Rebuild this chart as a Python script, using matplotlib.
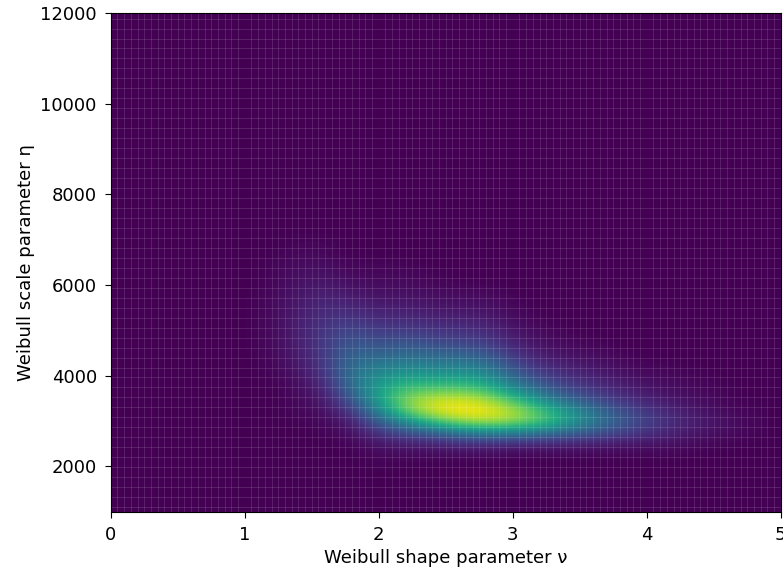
import numpy as np
import matplotlib.pyplot as plt
from matplotlib.ticker import MultipleLocator

# grid of the posterior density (cell centres)
shape_nu = [1.0, 1.2, 1.4, 1.6, 1.8, 2.0, 2.2, 2.4, 2.6, 2.8,
            3.0, 3.2, 3.4, 3.6, 3.8, 4.0, 4.2, 4.4, 4.6, 4.8]
scale_eta = [2000, 2250, 2500, 2750, 3000, 3250, 3500, 3750, 4000, 4250, 4500,
             4750, 5000, 5250, 5500, 5750, 6000, 6250, 6500, 6750, 7000]

# rows follow scale_eta, columns follow shape_nu (normalised to peak = 1)
density = [
    [0, 0, 0, 0, 0, 0.01, 0, 0, 0, 0, 0, 0, 0, 0, 0, 0, 0, 0, 0, 0],
    [0, 0, 0, 0, 0, 0.02, 0.02, 0.02, 0.02, 0.02, 0.01, 0.01, 0.01, 0.01, 0.01, 0.01, 0.01, 0, 0, 0],
    [0, 0, 0, 0, 0.01, 0.06, 0.08, 0.09, 0.12, 0.12, 0.11, 0.10, 0.09, 0.08, 0.06, 0.05, 0.04, 0.02, 0.01, 0],
    [0, 0, 0, 0.01, 0.04, 0.15, 0.24, 0.31, 0.40, 0.45, 0.44, 0.40, 0.33, 0.27, 0.20, 0.14, 0.09, 0.05, 0.03, 0.01],
    [0, 0, 0.01, 0.02, 0.08, 0.30, 0.50, 0.70, 0.85, 0.90, 0.85, 0.74, 0.58, 0.42, 0.29, 0.19, 0.12, 0.07, 0.04, 0.01],
    [0, 0, 0.02, 0.04, 0.17, 0.46, 0.78, 0.95, 1.00, 0.98, 0.88, 0.70, 0.52, 0.36, 0.24, 0.15, 0.09, 0.05, 0.02, 0.01],
    [0, 0, 0.02, 0.07, 0.27, 0.57, 0.80, 0.90, 0.92, 0.86, 0.68, 0.48, 0.32, 0.22, 0.14, 0.09, 0.05, 0.03, 0.01, 0],
    [0, 0, 0.03, 0.10, 0.35, 0.56, 0.68, 0.70, 0.71, 0.65, 0.46, 0.31, 0.20, 0.14, 0.09, 0.05, 0.03, 0.02, 0.01, 0],
    [0, 0.01, 0.04, 0.14, 0.38, 0.49, 0.55, 0.54, 0.55, 0.50, 0.33, 0.20, 0.13, 0.09, 0.05, 0.03, 0.02, 0.01, 0, 0],
    [0, 0.01, 0.06, 0.16, 0.36, 0.40, 0.44, 0.42, 0.42, 0.38, 0.23, 0.12, 0.08, 0.05, 0.03, 0.01, 0.01, 0, 0, 0],
    [0, 0.02, 0.07, 0.17, 0.32, 0.31, 0.34, 0.32, 0.31, 0.27, 0.15, 0.07, 0.04, 0.03, 0.01, 0, 0, 0, 0, 0],
    [0, 0.02, 0.08, 0.17, 0.27, 0.23, 0.26, 0.22, 0.20, 0.18, 0.09, 0.04, 0.02, 0.01, 0, 0, 0, 0, 0, 0],
    [0, 0.02, 0.08, 0.16, 0.22, 0.17, 0.18, 0.15, 0.14, 0.12, 0.06, 0.02, 0.01, 0, 0, 0, 0, 0, 0, 0],
    [0, 0.02, 0.08, 0.14, 0.16, 0.12, 0.12, 0.10, 0.09, 0.08, 0.03, 0.01, 0, 0, 0, 0, 0, 0, 0, 0],
    [0, 0.02, 0.07, 0.12, 0.11, 0.08, 0.08, 0.06, 0.05, 0.05, 0.02, 0, 0, 0, 0, 0, 0, 0, 0, 0],
    [0, 0.02, 0.06, 0.10, 0.07, 0.05, 0.05, 0.04, 0.03, 0.03, 0.01, 0, 0, 0, 0, 0, 0, 0, 0, 0],
    [0, 0.01, 0.05, 0.07, 0.04, 0.03, 0.03, 0.02, 0.01, 0.01, 0, 0, 0, 0, 0, 0, 0, 0, 0, 0],
    [0, 0.01, 0.04, 0.05, 0.02, 0.02, 0.02, 0.01, 0, 0, 0, 0, 0, 0, 0, 0, 0, 0, 0, 0],
    [0, 0.01, 0.03, 0.03, 0.01, 0.01, 0.01, 0, 0, 0, 0, 0, 0, 0, 0, 0, 0, 0, 0, 0],
    [0, 0, 0.02, 0.02, 0, 0, 0, 0, 0, 0, 0, 0, 0, 0, 0, 0, 0, 0, 0, 0],
    [0, 0, 0.01, 0.01, 0, 0, 0, 0, 0, 0, 0, 0, 0, 0, 0, 0, 0, 0, 0, 0],
]

fig = plt.figure(figsize=(7.83, 5.71), dpi=100)
ax = fig.add_axes([0.1414, 0.104, 0.8557, 0.873])
ax.set_facecolor(plt.cm.viridis(0))

dnu = shape_nu[1] - shape_nu[0]
deta = scale_eta[1] - scale_eta[0]
ext = [shape_nu[0] - dnu / 2, shape_nu[-1] + dnu / 2,
       scale_eta[0] - deta / 2, scale_eta[-1] + deta / 2]
ax.imshow(np.array(density), origin='lower', extent=ext, aspect='auto',
          cmap='viridis', vmin=0, vmax=1, interpolation='bicubic')

ax.set_xlim(0, 5)
ax.set_ylim(1000, 12000)
ax.xaxis.set_major_locator(MultipleLocator(1))
ax.yaxis.set_major_locator(MultipleLocator(2000))

# faint cell seams like the original mesh
ax.xaxis.set_minor_locator(MultipleLocator(0.05))
ax.yaxis.set_minor_locator(MultipleLocator(220))
ax.tick_params(which='minor', length=0)
ax.grid(which='minor', color='white', alpha=0.14, lw=0.6)

ax.tick_params(which='major', labelsize=13, length=4, pad=6)
ax.set_xlabel('Weibull shape parameter ν', fontsize=13)
ax.set_ylabel('Weibull scale parameter η', fontsize=13)

fig.savefig('out.png', dpi=100)
